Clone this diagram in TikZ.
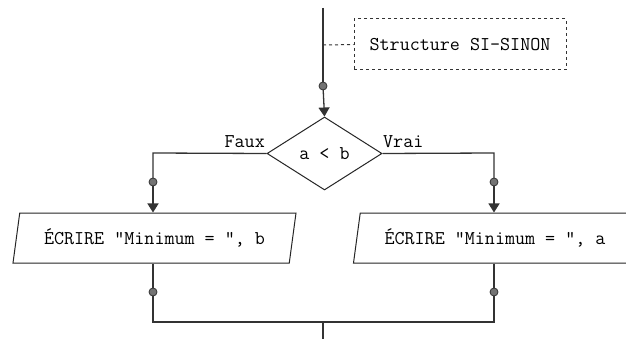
\documentclass[tikz,border=0pt]{standalone}
\usepackage{fontspec}
\usetikzlibrary{shapes.geometric,arrows.meta}
\begin{document}
\begin{tikzpicture}[x=1pt,y=-1pt,
  every node/.style={font=\ttfamily\fontsize{19.5}{21}\selectfont},
  flow/.style={draw=black!80,line width=1.3pt},
  arr/.style={flow,-{Triangle[length=9pt,width=11pt]}},
  dotnode/.style={circle,draw=black!80,fill=black!55,line width=0.8pt,minimum size=8pt,inner sep=0pt},
  notebox/.style={draw=black!80,dash pattern=on 3pt off 3pt,line width=1pt,minimum width=212pt,minimum height=51pt},
  decision/.style={diamond,draw=black!85,line width=1pt,inner sep=0pt,minimum width=115pt,minimum height=73pt,aspect=1.575},
  iobox/.style={trapezium,trapezium left angle=70,trapezium right angle=110,draw=black!85,line width=1pt,inner sep=0pt,minimum width=283pt,minimum height=50pt,trapezium stretches body},
  lbl/.style={inner sep=1pt}
]
\useasboundingbox (0,0) rectangle (626,339);
\fill[white] (0,0) rectangle (626,339);
\begin{scope}
\clip (0,0) rectangle (626,339);
\coordinate (top) at (323,8);
\coordinate (tap) at (323,45);
\node[notebox] (note) at (460,44.5) {Structure SI-SINON};
\node[decision] (dia) at (324.5,153.5) {a < b};
\node[iobox] (pl) at (154.5,238) {ÉCRIRE "Minimum = ", b};
\node[iobox] (pr) at (495,238) {ÉCRIRE "Minimum = ", a};
\node[lbl,anchor=base east] (faux) at (266,148) {Faux};
\node[lbl,anchor=base west] (vrai) at (382,148) {Vrai};
\coordinate (ltop) at (153,153);
\coordinate (rtop) at (494,153);
\coordinate (join) at (323,322);
\coordinate (bot) at (323,339);
\coordinate (d0) at (323,86);
\coordinate (dl1) at (153,182);
\coordinate (dr1) at (494,182);
\coordinate (dl2) at (153,292);
\coordinate (dr2) at (494,292);

\draw[flow] (top) -- (d0);
\draw[arr] (d0) -- (dia.north);
\draw[notebox,minimum width=0pt,minimum height=0pt] (tap) -- (note.west);
\draw[flow] (dia.west) -- (ltop) -- (dl1);
\draw[arr] (dl1) -- (dl1 |- pl.north);
\draw[flow] (dia.east) -- (rtop) -- (dr1);
\draw[arr] (dr1) -- (dr1 |- pr.north);
\draw[flow] (dl2 |- pl.south) -- (dl2) |- (join);
\draw[flow] (dr2 |- pr.south) -- (dr2) |- (join);
\draw[flow] (join) -- (bot);

\node[dotnode] (n0) at (d0) {};
\node[dotnode] (n1) at (dl1) {};
\node[dotnode] (n2) at (dr1) {};
\node[dotnode] (n3) at (dl2) {};
\node[dotnode] (n4) at (dr2) {};
\end{scope}
\end{tikzpicture}
\end{document}
